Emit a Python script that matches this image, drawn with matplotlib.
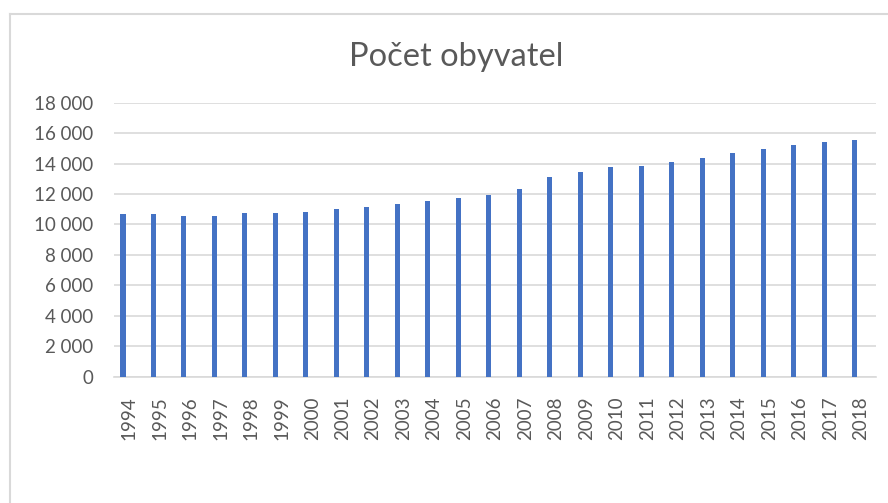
import matplotlib
matplotlib.use("Agg")
import matplotlib.pyplot as plt
from matplotlib.lines import Line2D
from matplotlib.ticker import FuncFormatter

years = ["1994", "1995", "1996", "1997", "1998", "1999", "2000", "2001", "2002",
         "2003", "2004", "2005", "2006", "2007", "2008", "2009", "2010", "2011",
         "2012", "2013", "2014", "2015", "2016", "2017", "2018"]
population = [10670, 10670, 10580, 10580, 10755, 10755, 10820, 11020, 11170,
              11345, 11525, 11760, 11940, 12330, 13100, 13450, 13780, 13840,
              14125, 14370, 14715, 14960, 15225, 15400, 15550]
title = "Počet obyvatel"

plt.rcParams['font.family'] = ['Lato', 'DejaVu Sans']
txt = '#595959'
grid = '#D9D9D9'

fig = plt.figure(figsize=(8.88, 5.03), dpi=100)
ax = fig.add_axes([114/888, 1-376.7/503, (876-114)/888, (376.7-102.7)/503])

x = list(range(len(years)))
ax.bar([i - 0.205 for i in x], population, width=0.165, color='#4472C4', zorder=3)

ax.set_xlim(-0.5, len(years) - 0.5)
ax.set_ylim(0, 18000)
ax.set_yticks(range(0, 18001, 2000))
ax.yaxis.set_major_formatter(FuncFormatter(lambda v, p: f"{int(v):,}".replace(",", " ")))
ax.set_xticks(x)
ax.set_xticklabels(years, rotation=90)
ax.tick_params(axis='both', length=0, labelsize=13.5, colors=txt)
ax.tick_params(axis='y', pad=15)
ax.tick_params(axis='x', pad=14)
ax.grid(axis='y', color=grid, linewidth=1.2, zorder=0)
for s in ['top', 'right', 'left']:
    ax.spines[s].set_visible(False)
ax.spines['bottom'].set_color(grid)
ax.spines['bottom'].set_linewidth(1.2)

fig.text(456/888, 1-57/503, title, ha='center', va='center', fontsize=23.5, color=txt)

# chart border
fig.add_artist(Line2D([10/888, 1.0], [1-14/503, 1-14/503], color=grid, linewidth=1.5, transform=fig.transFigure))
fig.add_artist(Line2D([10/888, 10/888], [0.0, 1-14/503], color=grid, linewidth=1.5, transform=fig.transFigure))

fig.savefig("out.png", dpi=100)
